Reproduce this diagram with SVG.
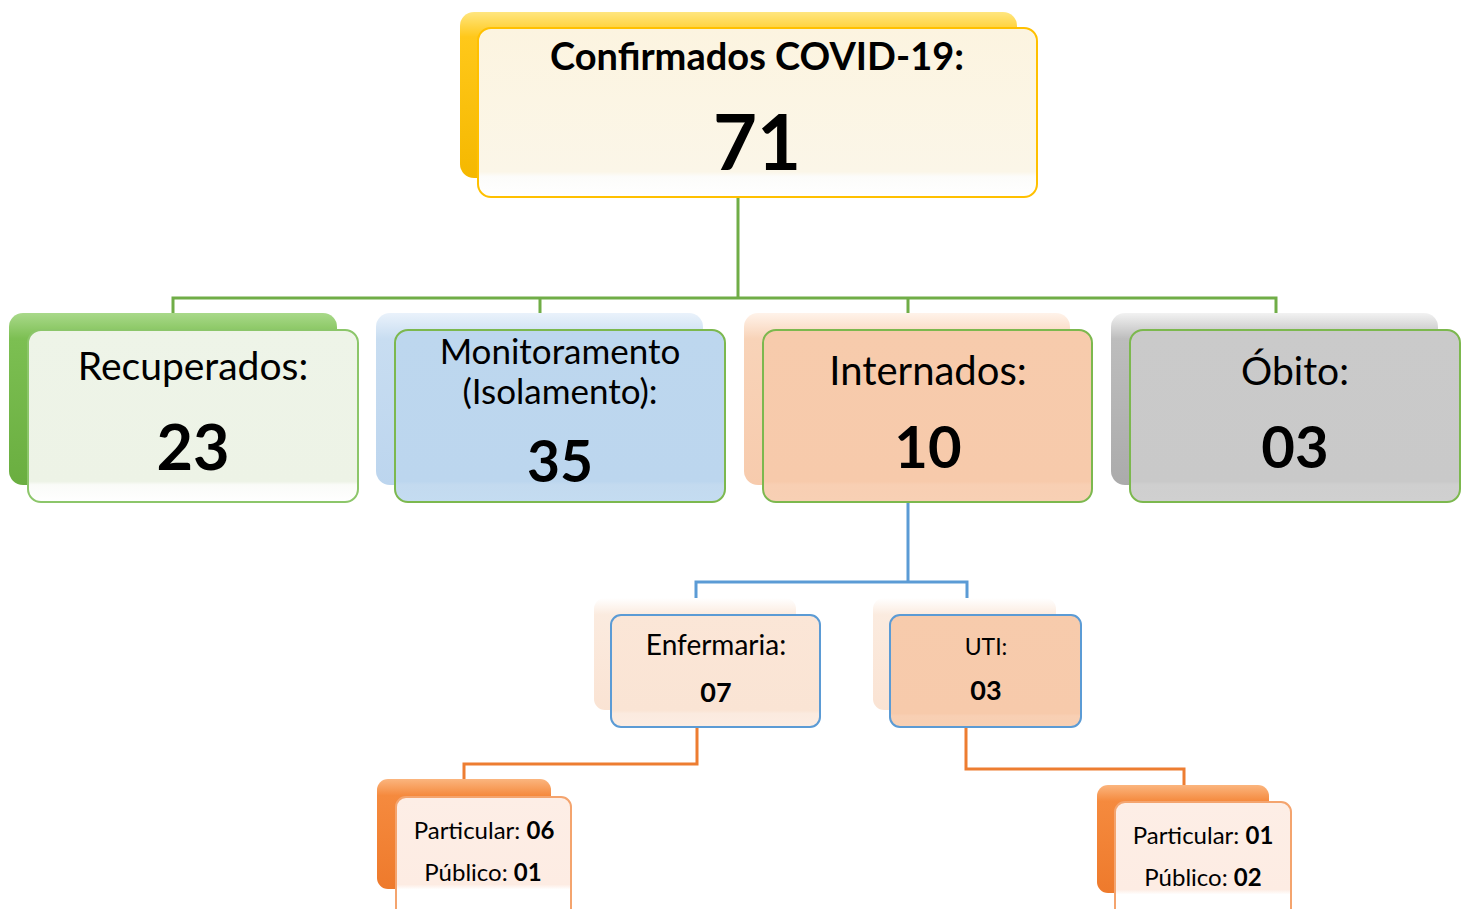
<svg xmlns="http://www.w3.org/2000/svg" width="1470" height="909" viewBox="0 0 1470 909">
<defs>
<linearGradient id="gYellowBack" x1="0" y1="0" x2="0" y2="1"><stop offset="0" stop-color="#FFE680"/><stop offset="0.15" stop-color="#FFC81A"/><stop offset="1" stop-color="#F5B800"/></linearGradient>
<linearGradient id="gGreenBack" x1="0" y1="0" x2="0" y2="1"><stop offset="0" stop-color="#A9D98A"/><stop offset="0.15" stop-color="#7CBF52"/><stop offset="1" stop-color="#6AAE40"/></linearGradient>
<linearGradient id="gBlueBack" x1="0" y1="0" x2="0" y2="1"><stop offset="0" stop-color="#EAF2FB"/><stop offset="0.15" stop-color="#C8DDF1"/><stop offset="1" stop-color="#BCD5EE"/></linearGradient>
<linearGradient id="gPeachBack" x1="0" y1="0" x2="0" y2="1"><stop offset="0" stop-color="#FFF3EA"/><stop offset="0.15" stop-color="#F8D3B8"/><stop offset="1" stop-color="#F7CBAD"/></linearGradient>
<linearGradient id="gGrayBack" x1="0" y1="0" x2="0" y2="1"><stop offset="0" stop-color="#F2F2F2"/><stop offset="0.15" stop-color="#BDBDBD"/><stop offset="1" stop-color="#ABABAB"/></linearGradient>
<linearGradient id="gLightPeachBack" x1="0" y1="0" x2="0" y2="1"><stop offset="0" stop-color="#FFFFFF"/><stop offset="0.15" stop-color="#FBEBDF"/><stop offset="1" stop-color="#FAE3D3"/></linearGradient>
<linearGradient id="gOrangeBack" x1="0" y1="0" x2="0" y2="1"><stop offset="0" stop-color="#FBB57E"/><stop offset="0.15" stop-color="#F58A3E"/><stop offset="1" stop-color="#EE7A2C"/></linearGradient>
<linearGradient id="gCream" x1="0" y1="0" x2="0" y2="1"><stop offset="0" stop-color="#FCF4E0"/><stop offset="0.85" stop-color="#FBF6E8"/><stop offset="0.88" stop-color="#FCFCFA"/><stop offset="1" stop-color="#FFFFFF"/></linearGradient>
<linearGradient id="gPaleGreen" x1="0" y1="0" x2="0" y2="1"><stop offset="0" stop-color="#EEF4E8"/><stop offset="0.88" stop-color="#EDF3E6"/><stop offset="0.9" stop-color="#FAFBF8"/><stop offset="1" stop-color="#FFFFFF"/></linearGradient>
<linearGradient id="gBlue" x1="0" y1="0" x2="0" y2="1"><stop offset="0" stop-color="#BDD7EE"/><stop offset="0.88" stop-color="#BCD6EE"/><stop offset="0.9" stop-color="#C3DAEF"/><stop offset="1" stop-color="#C4DCF1"/></linearGradient>
<linearGradient id="gPeach" x1="0" y1="0" x2="0" y2="1"><stop offset="0" stop-color="#F7CBAC"/><stop offset="0.88" stop-color="#F7CAAB"/><stop offset="0.9" stop-color="#F8CFB3"/><stop offset="1" stop-color="#F8D0B4"/></linearGradient>
<linearGradient id="gGray" x1="0" y1="0" x2="0" y2="1"><stop offset="0" stop-color="#CACACA"/><stop offset="0.88" stop-color="#C9C9C9"/><stop offset="0.9" stop-color="#CFCFCF"/><stop offset="1" stop-color="#D0D0D0"/></linearGradient>
<linearGradient id="gLightPeach" x1="0" y1="0" x2="0" y2="1"><stop offset="0" stop-color="#FBE6D7"/><stop offset="0.85" stop-color="#FAE4D4"/><stop offset="0.88" stop-color="#FBEADF"/><stop offset="1" stop-color="#FCEDE3"/></linearGradient>
<linearGradient id="gPaleOrange" x1="0" y1="0" x2="0" y2="1"><stop offset="0" stop-color="#FDEEE6"/><stop offset="0.7" stop-color="#FDECE3"/><stop offset="0.74" stop-color="#FFFFFF"/><stop offset="1" stop-color="#FFFFFF"/></linearGradient>
</defs>
<style>
text{font-family:Lato,"Liberation Sans",sans-serif;fill:#000;text-anchor:middle}
.b{font-weight:bold}
.front{stroke-width:2}
.conG{fill:none;stroke:#70AD47;stroke-width:3}
.conB{fill:none;stroke:#5B9BD5;stroke-width:3}
.conO{fill:none;stroke:#ED7D31;stroke-width:3}
</style>

<g id="connectors">
<path class="conG" d="M738,197 V298 M173,313 V298 H1276 V313 M540,298 V313 M908,298 V313"/>
<path class="conB" d="M908,502 V582 M696,598 V582 H967 V598"/>
<path class="conO" d="M697,727 V764 H464 V780"/>
<path class="conO" d="M966,727 V769 H1184 V785"/>
</g>

<g id="node-confirmados">
<rect x="460" y="12" width="557" height="166" rx="14" fill="url(#gYellowBack)"/>
<rect class="front" x="478" y="28" width="559" height="169" rx="13" fill="url(#gCream)" stroke="#FFC000"/>
<text class="b" x="757" y="70" font-size="38">Confirmados COVID-19:</text>
<text class="b" x="757" y="170" font-size="76">71</text>
</g>

<g id="node-recuperados">
<rect x="9" y="313" width="328" height="172" rx="14" fill="url(#gGreenBack)"/>
<rect class="front" x="28" y="330" width="330" height="172" rx="13" fill="url(#gPaleGreen)" stroke="#8CC66A"/>
<text x="193" y="380" font-size="39">Recuperados:</text>
<text class="b" x="193" y="470" font-size="63">23</text>
</g>

<g id="node-monitoramento">
<rect x="376" y="313" width="327" height="172" rx="14" fill="url(#gBlueBack)"/>
<rect class="front" x="395" y="330" width="330" height="172" rx="13" fill="url(#gBlue)" stroke="#7CB84E"/>
<text x="560" y="364" font-size="35">Monitoramento</text>
<text x="560" y="404" font-size="35">(Isolamento):</text>
<text class="b" x="560" y="482" font-size="57">35</text>
</g>

<g id="node-internados">
<rect x="744" y="313" width="326" height="172" rx="14" fill="url(#gPeachBack)"/>
<rect class="front" x="763" y="330" width="329" height="172" rx="13" fill="url(#gPeach)" stroke="#7CB84E"/>
<text x="928" y="385" font-size="40">Internados:</text>
<text class="b" x="928" y="468" font-size="58">10</text>
</g>

<g id="node-obito">
<rect x="1111" y="313" width="327" height="172" rx="14" fill="url(#gGrayBack)"/>
<rect class="front" x="1130" y="330" width="330" height="172" rx="13" fill="url(#gGray)" stroke="#7CB84E"/>
<text x="1295" y="385" font-size="39">Óbito:</text>
<text class="b" x="1295" y="468" font-size="58">03</text>
</g>

<g id="node-enfermaria">
<rect x="594" y="598" width="202" height="112" rx="11" fill="url(#gLightPeachBack)"/>
<rect class="front" x="611" y="615" width="209" height="112" rx="10" fill="url(#gLightPeach)" stroke="#5B9BD5"/>
<text x="716" y="655" font-size="28">Enfermaria:</text>
<text class="b" x="716" y="702" font-size="27">07</text>
</g>

<g id="node-uti">
<rect x="873" y="598" width="183" height="112" rx="11" fill="url(#gLightPeachBack)"/>
<rect class="front" x="890" y="615" width="191" height="112" rx="10" fill="url(#gPeach)" stroke="#5B9BD5"/>
<text x="986" y="655" font-size="23">UTI:</text>
<text class="b" x="986" y="700" font-size="27">03</text>
</g>

<g id="node-enf-detalhe">
<rect x="377" y="779" width="174" height="110" rx="11" fill="url(#gOrangeBack)"/>
<rect class="front" x="396" y="797" width="175" height="125" rx="10" fill="url(#gPaleOrange)" stroke="#F4A46E"/>
<text x="484" y="839" font-size="24">Particular: <tspan class="b">06</tspan></text>
<text x="483" y="881" font-size="24">Público: <tspan class="b">01</tspan></text>
</g>

<g id="node-uti-detalhe">
<rect x="1097" y="785" width="172" height="108" rx="11" fill="url(#gOrangeBack)"/>
<rect class="front" x="1115" y="802" width="176" height="125" rx="10" fill="url(#gPaleOrange)" stroke="#F4A46E"/>
<text x="1203" y="844" font-size="24">Particular: <tspan class="b">01</tspan></text>
<text x="1203" y="886" font-size="24">Público: <tspan class="b">02</tspan></text>
</g>
</svg>
